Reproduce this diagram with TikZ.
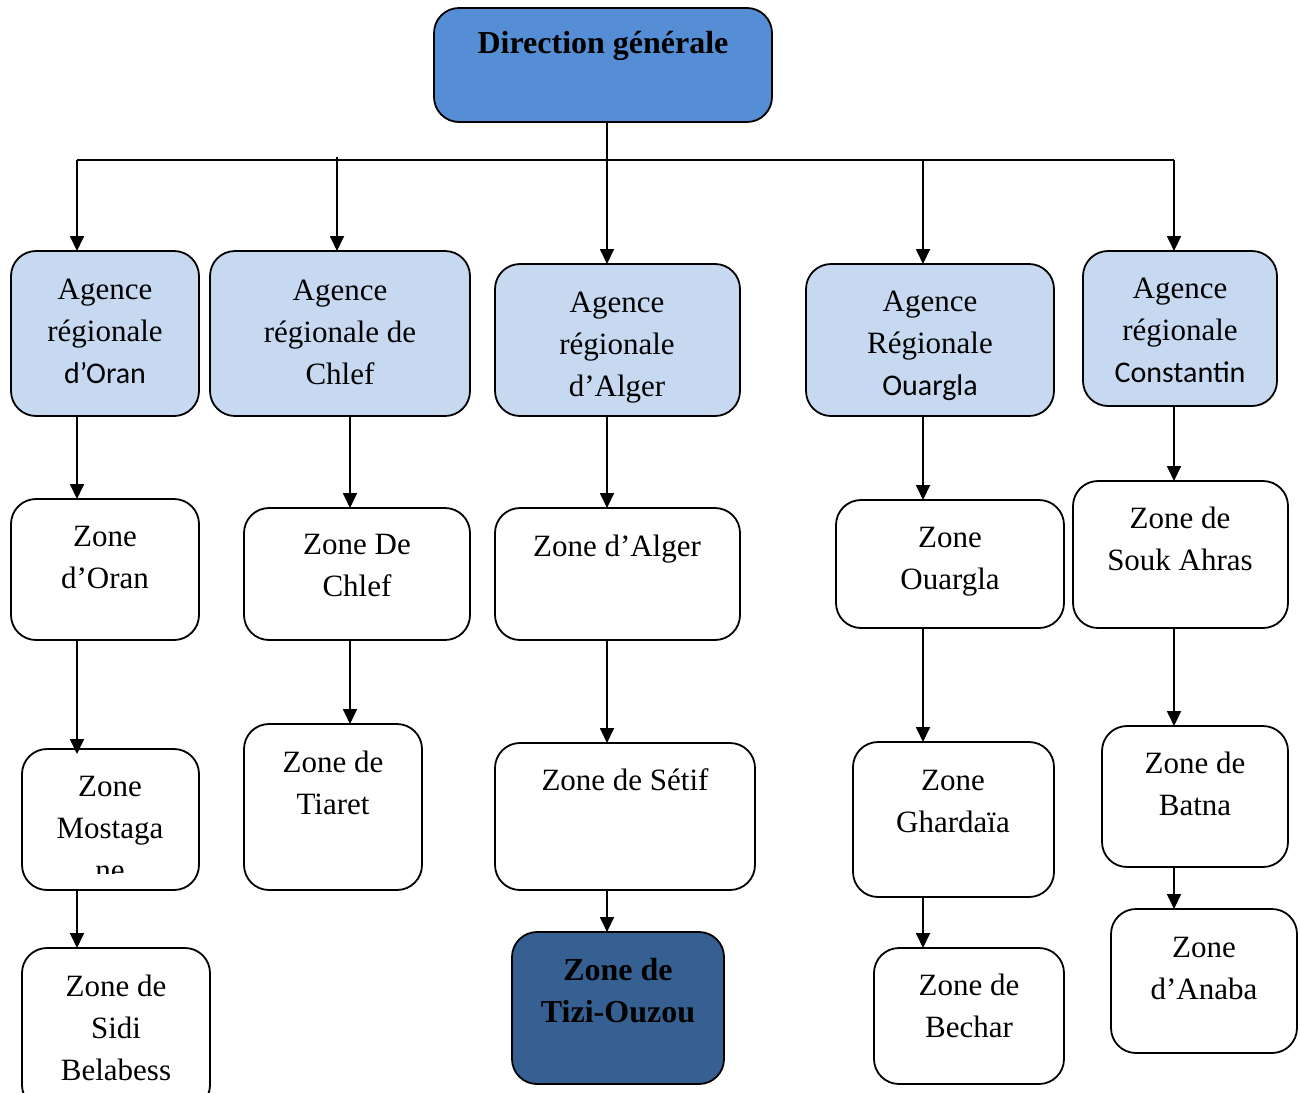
\documentclass[tikz,border=0pt]{standalone}
\usepackage{fontspec}
\setmainfont{Liberation Serif}
\newfontfamily\calfont{Carlito}
\usetikzlibrary{arrows.meta}
\definecolor{lightag}{HTML}{C6D9F1}
\definecolor{dgblue}{HTML}{558ED5}
\definecolor{darkzone}{HTML}{366092}
\newcommand{\calline}[1]{{\fontsize{30}{42}\selectfont\calfont #1}}
\tikzset{
  box/.style={draw=black, line width=1.8pt, rounded corners=25pt, inner sep=0pt, outer sep=0pt},
  agbox/.style={box, fill=lightag},
  zbox/.style={box, fill=white},
  txt/.style={anchor=base, align=center, inner sep=0pt, font=\fontsize{31}{42}\selectfont},
  boldtxt/.style={txt, font=\fontsize{32}{42}\selectfont\bfseries},
  arr/.style={line width=1.8pt, -{Triangle[length=15pt,width=14pt]}},
  ln/.style={line width=1.8pt}
}
\begin{document}
\begin{tikzpicture}[x=1pt,y=-1pt]
\clip (0,0) rectangle (1300,1092);
\useasboundingbox (0,0) rectangle (1300,1092);
% boxes
\node[box, fill=dgblue, minimum width=338pt, minimum height=114pt] (dg) at (603,65) {};
\node[agbox, minimum width=188pt, minimum height=165pt] (oran) at (105,333.5) {};
\node[agbox, minimum width=260pt, minimum height=165pt] (chlef) at (340,333.5) {};
\node[agbox, minimum width=245pt, minimum height=152pt] (alger) at (617.5,340) {};
\node[agbox, minimum width=248pt, minimum height=152pt] (ouargla) at (930,340) {};
\node[agbox, minimum width=194pt, minimum height=155pt] (const) at (1180,328.5) {};
\node[zbox, minimum width=188pt, minimum height=141pt] (zoran) at (105,569.5) {};
\node[zbox, minimum width=226pt, minimum height=132pt] (zchlef) at (357,574) {};
\node[zbox, minimum width=245pt, minimum height=132pt] (zalger) at (617.5,574) {};
\node[zbox, minimum width=228pt, minimum height=128pt] (zouargla) at (950,564) {};
\node[zbox, minimum width=215pt, minimum height=147pt] (zsouk) at (1180.5,554.5) {};
\node[zbox, minimum width=177pt, minimum height=141pt] (zmost) at (110.5,819.5) {};
\node[zbox, minimum width=178pt, minimum height=166pt] (ztiaret) at (333,807) {};
\node[zbox, minimum width=260pt, minimum height=147pt] (zsetif) at (625,816.5) {};
\node[zbox, minimum width=201pt, minimum height=155pt] (zghard) at (953.5,819.5) {};
\node[zbox, minimum width=186pt, minimum height=141pt] (zbatna) at (1195,796.5) {};
\node[zbox, minimum width=188pt, minimum height=162pt] (zsidi) at (116,1029) {};
\node[box, fill=darkzone, minimum width=212pt, minimum height=152pt] (ztizi) at (618,1008) {};
\node[zbox, minimum width=190pt, minimum height=136pt] (zbechar) at (969,1016) {};
\node[zbox, minimum width=186pt, minimum height=144pt] (zanaba) at (1204,981) {};
% texts (anchor at baseline of the last line)
\node[boldtxt] (tdg) at (603,53) {Direction générale};
\node[txt] (toran) at (105,383) {Agence\\régionale\\\calline{d’Oran}};
\node[txt] (tchlef) at (340,384) {Agence\\régionale de\\Chlef};
\node[txt] (talger) at (617,396) {Agence\\régionale\\d’Alger};
\node[txt] (touargla) at (930,395) {Agence\\Régionale\\\calline{Ouargla}};
\node[txt] (tconst) at (1180,382) {Agence\\régionale\\\calline{Constantin}};
\node[txt] (tzoran) at (105,588) {Zone\\d’Oran};
\node[txt] (tzchlef) at (357,596) {Zone De\\Chlef};
\node[txt] (tzalger) at (617,556) {Zone d’Alger};
\node[txt] (tzouargla) at (950,589) {Zone\\Ouargla};
\node[txt] (tzsouk) at (1180,570) {Zone de\\Souk Ahras};
\begin{scope}
\clip (22,749) rectangle (199,873);
\node[txt] (tzmost) at (110,880) {Zone\\Mostaga\\ne};
\end{scope}
\node[txt] (tztiaret) at (333,814) {Zone de\\Tiaret};
\node[txt] (tzsetif) at (625,790) {Zone de Sétif};
\node[txt] (tzghard) at (953,832) {Zone\\Ghardaïa};
\node[txt] (tzbatna) at (1195,815) {Zone de\\Batna};
\node[txt] (tzsidi) at (116,1080) {Zone de\\Sidi\\Belabess};
\node[boldtxt] (tztizi) at (618,1022) {Zone de\\Tizi-Ouzou};
\node[txt] (tzbechar) at (969,1037) {Zone de\\Bechar};
\node[txt] (tzanaba) at (1204,999) {Zone\\d’Anaba};
% connector coordinates
\coordinate (c77) at (77,0);
\coordinate (c337) at (337,0);
\coordinate (c350) at (350,0);
\coordinate (c607) at (607,0);
\coordinate (c923) at (923,0);
\coordinate (c1174) at (1174,0);
\coordinate (busL) at (77,160);
\coordinate (busR) at (1174,160);
\coordinate (busC) at (337,157);
% connectors
\draw[ln] (busL) -- (busR);
\draw[arr] (dg.south -| c607) -- (alger.north -| c607);
\draw[arr] (busL) -- (oran.north -| c77);
\draw[arr] (busC) -- (chlef.north -| c337);
\draw[arr] (busL -| c923) -- (ouargla.north -| c923);
\draw[arr] (busR) -- (const.north -| c1174);
\draw[arr] (oran.south -| c77) -- (zoran.north -| c77);
\draw[arr] (chlef.south -| c350) -- (zchlef.north -| c350);
\draw[arr] (alger.south -| c607) -- (zalger.north -| c607);
\draw[arr] (ouargla.south -| c923) -- (zouargla.north -| c923);
\draw[arr] (const.south -| c1174) -- (zsouk.north -| c1174);
\draw[arr] (zoran.south -| c77) -- ([yshift=-5pt]zmost.north -| c77);
\draw[arr] (zchlef.south -| c350) -- (ztiaret.north -| c350);
\draw[arr] (zalger.south -| c607) -- (zsetif.north -| c607);
\draw[arr] (zouargla.south -| c923) -- (zghard.north -| c923);
\draw[arr] (zsouk.south -| c1174) -- (zbatna.north -| c1174);
\draw[arr] (zmost.south -| c77) -- (zsidi.north -| c77);
\draw[arr] (zsetif.south -| c607) -- (ztizi.north -| c607);
\draw[arr] (zghard.south -| c923) -- (zbechar.north -| c923);
\draw[arr] (zbatna.south -| c1174) -- (zanaba.north -| c1174);
\end{tikzpicture}
\end{document}
